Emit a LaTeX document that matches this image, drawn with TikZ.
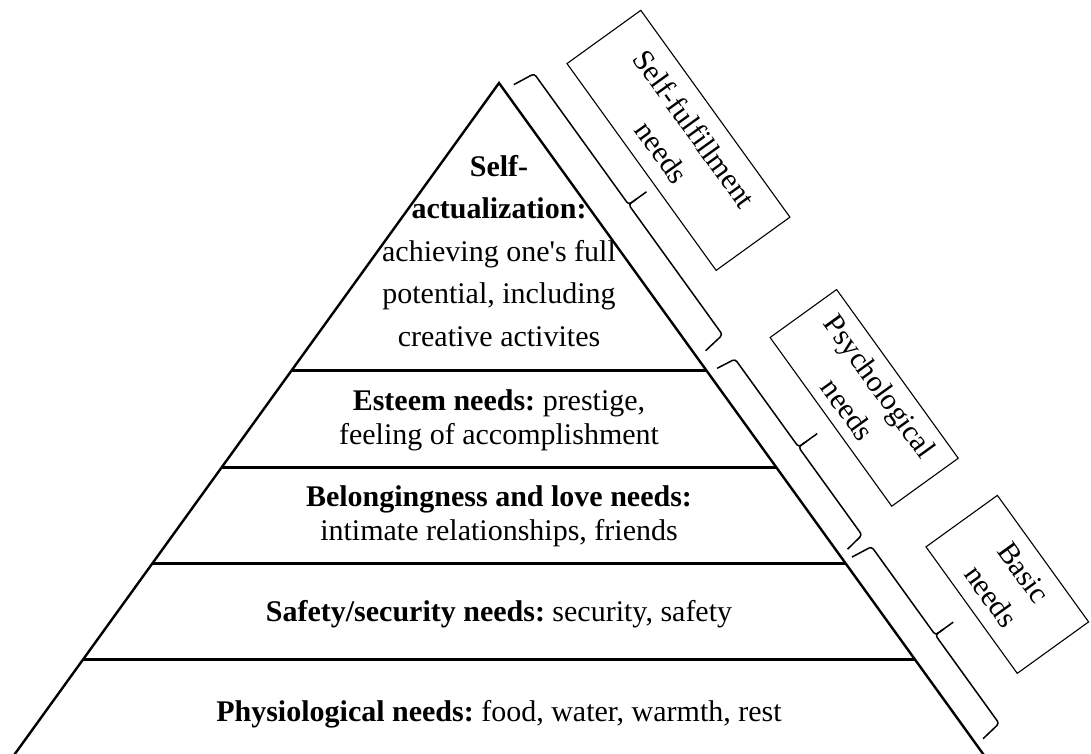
\documentclass[tikz,border=0pt]{standalone}
\usepackage{fontspec}
\setmainfont{Liberation Serif}
\frenchspacing

\tikzset{
  pyredge/.style={line width=2.4pt},
  tier/.style={line width=3pt},
  bracket/.style={line width=1.5pt, rounded corners=3pt},
  needbox/.style={draw, line width=1.1pt, inner sep=0pt, align=center,
    rotate=-54.2, font=\fontsize{30}{40}\selectfont},
  tiertext/.style={align=center, font=\fontsize{30}{34}\selectfont}
}

\begin{document}
\begin{tikzpicture}[x=1pt,y=1pt]
\useasboundingbox (0,0) rectangle (1091,-753);
\clip (0,0) rectangle (1091,-753);

% pyramid
\coordinate (apex) at (499,-83);
\coordinate (bl) at (3.3,-770);
\coordinate (br) at (994.7,-770);
\draw[pyredge] (bl) -- (apex) -- (br);

\draw[tier] (291.9,-370) -- (706.1,-370);
\draw[tier] (221.9,-467) -- (776.1,-467);
\draw[tier] (152.7,-563) -- (845.3,-563);
\draw[tier] (83.4,-659) -- (914.6,-659);

% levels
\node[tiertext, font=\fontsize{30}{42.5}\selectfont] (selfact) at (499,-251)
  {\textbf{Self-}\\\textbf{actualization:}\\achieving one\textquotesingle s full\\potential, including\\creative activites};
\node[tiertext] (esteem) at (499,-420) {\textbf{Esteem needs:} prestige,\\feeling of accomplishment};
\node[tiertext] (belong) at (499,-516) {\textbf{Belongingness and love needs:}\\intimate relationships, friends};
\node[tiertext] (safety) at (499,-614) {\textbf{Safety/security needs:} security, safety};
\node[tiertext] (physio) at (499,-714) {\textbf{Physiological needs:} food, water, warmth, rest};

% groups along the right side
\begin{scope}[shift={(apex)}, rotate=-54.2]
\draw[bracket] (10,11) -- (13,34) -- (174.5,34) -- (174.5,56);
\draw[bracket] (174.5,44) -- (174.5,34) -- (335,34) -- (338,11);
\draw[bracket] (359,10) -- (362,30) -- (470.5,30) -- (470.5,53);
\draw[bracket] (470.5,40) -- (470.5,30) -- (579,30) -- (582,10);
\draw[bracket] (591,9) -- (594,31) -- (703,31) -- (703,53);
\draw[bracket] (703,41) -- (703,31) -- (812,31) -- (815,9);

\node[needbox, minimum width=255pt, minimum height=91pt] (fulfil) at (151.5,112) {Self-fulfillment\\needs};
\node[needbox, minimum width=208pt, minimum height=82pt] (psych) at (469,112) {Psychological\\needs};
\node[needbox, minimum width=156pt, minimum height=88pt] (basic) at (704,119) {Basic\\needs};
\end{scope}
\end{tikzpicture}
\end{document}
